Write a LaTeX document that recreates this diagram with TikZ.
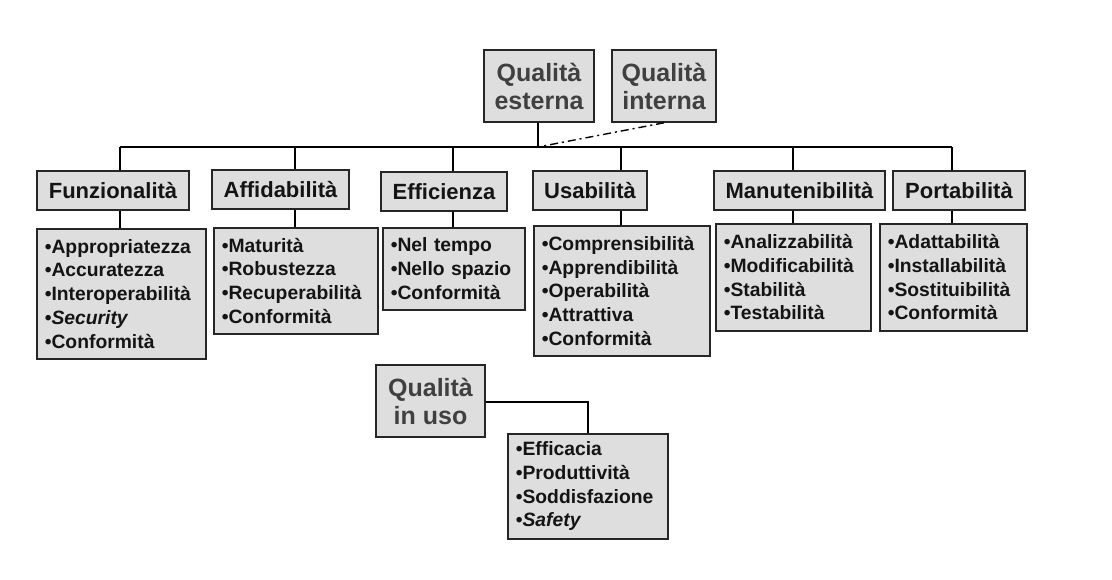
\documentclass[tikz,border=0pt]{standalone}
\usepackage{fontspec}
\setmainfont{Liberation Sans}
\definecolor{boxfill}{RGB}{222,222,222}
\definecolor{toptext}{RGB}{64,64,64}
\definecolor{txt}{RGB}{20,20,20}
\begin{document}
\begin{tikzpicture}[x=1pt,y=-1pt,
  hdr/.style={draw=black!85, line width=1.6pt, fill=boxfill, inner sep=0pt,
    minimum height=39pt, font=\fontsize{22}{26}\selectfont\bfseries, text=txt},
  lst/.style={draw=black!85, line width=1.6pt, fill=boxfill, inner xsep=8pt, inner ysep=0pt,
    anchor=north west, align=left, font=\fontsize{19.3}{23.7}\selectfont\bfseries, text=txt},
  topbox/.style={draw=black!85, line width=1.6pt, fill=boxfill, inner sep=0pt,
    minimum height=72pt, align=center, font=\fontsize{25}{28}\selectfont\bfseries, text=toptext},
  conn/.style={draw=black, line width=1.4pt}
]
\useasboundingbox (0,0) rectangle (1112,580);

% top boxes
\node[topbox, minimum width=110pt] (est) at (539,86) {Qualità\\esterna};
\node[topbox, minimum width=104pt] (int) at (664,86) {Qualità\\interna};
\node[topbox, minimum width=109pt] (uso) at (430.5,401) {Qualità\\in uso};

% header boxes
\node[hdr, minimum width=152pt] (funz) at (113,190.5) {Funzionalità};
\node[hdr, minimum width=137pt] (affid) at (280.5,189.5) {Affidabilità};
\node[hdr, minimum width=126pt] (effic) at (444,191.5) {Efficienza};
\node[hdr, minimum width=114pt] (usab) at (590,190.5) {Usabilità};
\node[hdr, minimum width=171pt] (manut) at (799.5,190.5) {Manutenibilità};
\node[hdr, minimum width=132pt] (port) at (959,190.5) {Portabilità};

% list boxes
\node[lst, text width=153pt, minimum height=130pt] (funzL) at (36,228)
  {•Appropriatezza\\•Accuratezza\\•Interoperabilità\\•\textit{Security}\\•Conformità};
\node[lst, text width=148pt, minimum height=106pt] (affidL) at (213,227)
  {•Maturità\\•Robustezza\\•Recuperabilità\\•Conformità};
\node[lst, text width=126pt, minimum height=82pt] (efficL) at (382,227)
  {•Nel tempo\\•Nello spazio\\•Conformità};
\node[lst, text width=160pt, minimum height=130pt] (usabL) at (533,225)
  {•Comprensibilità\\•Apprendibilità\\•Operabilità\\•Attrattiva\\•Conformità};
\node[lst, text width=139pt, minimum height=107pt] (manutL) at (715,223)
  {•Analizzabilità\\•Modificabilità\\•Stabilità\\•Testabilità};
\node[lst, text width=131pt, minimum height=107pt] (portL) at (879,223)
  {•Adattabilità\\•Installabilità\\•Sostituibilità\\•Conformità};
\node[lst, text width=144pt, minimum height=105pt] (usoL) at (507,433)
  {•Efficacia\\•Produttività\\•Soddisfazione\\•\textit{Safety}};

% bus
\coordinate (bF) at (120,147);
\coordinate (bA) at (295,147);
\coordinate (bE) at (453,147);
\coordinate (bQ) at (538,147);
\coordinate (bU) at (621,147);
\coordinate (bM) at (793,147);
\coordinate (bP) at (952,147);
\draw[conn] (bF) -- (bP);
\draw[conn, line width=2pt] (bE) -- (bM);
\draw[conn, line width=2pt] (est.south -| bQ) -- (bQ);
\draw[black, line width=1.4pt, dash pattern=on 8pt off 4pt on 2pt off 4pt] (int.south) -- (bQ);

\foreach \b/\h/\l in {bF/funz/funzL, bA/affid/affidL, bE/effic/efficL, bU/usab/usabL, bM/manut/manutL, bP/port/portL}{
  \draw[conn] (\b) -- (\b |- \h.north);
  \draw[conn] (\h.south -| \b) -- (\b |- \l.north);
}

% in uso connector
\coordinate (uT) at (588,402);
\draw[conn] (uso.east |- uT) -- (uT) -- (uT |- usoL.north);
\end{tikzpicture}
\end{document}
